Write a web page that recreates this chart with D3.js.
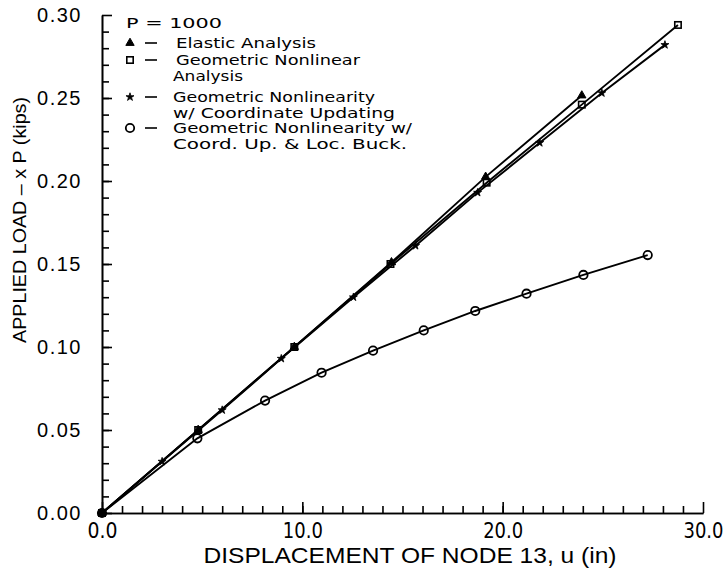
<!DOCTYPE html>
<html>
<head>
<meta charset="utf-8">
<script src="https://cdn.jsdelivr.net/npm/d3@7"></script>
<style>
  body { margin: 0; background: #fff; }
  svg { display: block; }
  .ylab text { font-family: "Liberation Sans", Arial, sans-serif; font-size: 20px; letter-spacing: 1.5px; }
  .xlab text { font-family: "Liberation Sans Narrow", "DejaVu Sans Condensed", "Liberation Sans", sans-serif; font-stretch: condensed; font-size: 21px; }
  .legend text { font-family: "DejaVu Sans", sans-serif; font-size: 14.5px; }
</style>
</head>
<body>
<div class="chart"></div>
<script>
// displacement u (in) / load (kips)
const elasticU = [0, 4.8, 9.6, 14.45, 19.15, 23.95];
const elasticP = [0, 0.05, 0.1, 0.151, 0.2025, 0.2515];

const geomU = [0, 4.8, 9.6, 14.4, 19.2, 23.95, 28.75];
const geomP = [0, 0.05, 0.1, 0.15, 0.199, 0.246, 0.294];

const updU = [0, 3.0, 6.0, 8.95, 12.55, 15.65, 18.75, 21.85, 24.95, 28.1];
const updP = [0, 0.031, 0.062, 0.093, 0.13, 0.161, 0.193, 0.223, 0.253, 0.282];

const buckU = [0, 4.76, 8.14, 10.96, 13.53, 16.06, 18.63, 21.19, 24.03, 27.24];
const buckP = [0, 0.045, 0.0677, 0.0845, 0.0978, 0.11, 0.1217, 0.1321, 0.1434, 0.1554];

const xMajor = [0, 10, 20, 30];
const yMajor = [0, 0.05, 0.1, 0.15, 0.2, 0.25, 0.3];

const legendRows = [
  { marker: null, lines: ["P  =  1000"] },
  { marker: "triangle", lines: ["Elastic  Analysis"] },
  { marker: "square", lines: ["Geometric  Nonlinear", "Analysis"] },
  { marker: "star", lines: ["Geometric  Nonlinearity", "w/  Coordinate  Updating"] },
  { marker: "circle", lines: ["Geometric  Nonlinearity  w/", "Coord.  Up.  &  Loc.  Buck."] },
];

const width = 727, height = 572;
const svg = d3.select(".chart").append("svg")
  .attr("width", width).attr("height", height);

const x = d3.scaleLinear().domain([0, 30]).range([102, 703]);
const y = d3.scaleLinear().domain([0, 0.3]).range([513, 15]);

// axes: minor ticks inside, majors longer with labels
svg.append("g")
  .attr("transform", `translate(0,${y(0)})`)
  .call(d3.axisBottom(x).tickValues(d3.range(1, 30)).tickSizeInner(-7).tickSizeOuter(0).tickFormat(""))
  .call((g) => g.selectAll("line, path").attr("stroke", "#000").attr("stroke-width", 1.6));
svg.append("g")
  .attr("class", "xlab")
  .attr("transform", `translate(0,${y(0)})`)
  .call(d3.axisBottom(x).tickValues(xMajor).tickSizeInner(-11).tickSizeOuter(0).tickPadding(10).tickFormat(d3.format(".1f")))
  .call((g) => g.selectAll("line, path").attr("stroke", "#000").attr("stroke-width", 1.6))
  .call((g) => g.selectAll("text").attr("fill", "#000")
    .attr("textLength", (d) => (d < 10 ? 30 : 40)).attr("lengthAdjust", "spacingAndGlyphs"));

svg.append("g")
  .attr("transform", `translate(${x(0)},0)`)
  .call(d3.axisLeft(y).tickValues(d3.range(1, 30).map((d) => d / 100)).tickSizeInner(-7).tickSizeOuter(0).tickFormat(""))
  .call((g) => g.selectAll("line, path").attr("stroke", "#000").attr("stroke-width", 1.6));
svg.append("g")
  .attr("class", "ylab")
  .attr("transform", `translate(${x(0)},0)`)
  .call(d3.axisLeft(y).tickValues(yMajor).tickSizeInner(-10).tickSizeOuter(0).tickPadding(20).tickFormat(d3.format(".2f")))
  .call((g) => g.selectAll("line, path").attr("stroke", "#000").attr("stroke-width", 1.6))
  .call((g) => g.selectAll("text").attr("fill", "#000"));

// axis titles
svg.append("text")
  .attr("x", 410).attr("y", 563)
  .attr("text-anchor", "middle")
  .attr("textLength", 413).attr("lengthAdjust", "spacingAndGlyphs")
  .style("font-family", '"Liberation Sans Narrow", "Liberation Sans", sans-serif')
  .style("font-size", "22px")
  .text("DISPLACEMENT OF NODE 13, u (in)");

svg.append("text")
  .attr("transform", "translate(26,220) rotate(-90)")
  .attr("text-anchor", "middle")
  .attr("textLength", 246).attr("lengthAdjust", "spacingAndGlyphs")
  .style("font-family", '"Liberation Sans", Arial, sans-serif')
  .style("font-size", "18px")
  .text("APPLIED LOAD  –  x P  (kips)");

// series
const series = [
  { u: elasticU, p: elasticP, marker: "triangle" },
  { u: geomU, p: geomP, marker: "square" },
  { u: updU, p: updP, marker: "star" },
  { u: buckU, p: buckP, marker: "circle" },
];

const line = d3.line().x((d) => x(d[0])).y((d) => y(d[1]));

function drawMarker(g, type, cx, cy) {
  if (type === "triangle") {
    g.append("path").attr("d", d3.symbol(d3.symbolTriangle, 30)())
      .attr("transform", `translate(${cx},${cy})`)
      .attr("fill", "#000").attr("stroke", "#000").attr("stroke-width", 1);
  } else if (type === "square") {
    g.append("rect").attr("x", cx - 3.2).attr("y", cy - 3.2).attr("width", 6.4).attr("height", 6.4)
      .attr("fill", "none").attr("stroke", "#000").attr("stroke-width", 1.6);
  } else if (type === "star") {
    g.append("path").attr("d", d3.symbol(d3.symbolStar, 20)())
      .attr("transform", `translate(${cx},${cy})`)
      .attr("fill", "#000").attr("stroke", "#000").attr("stroke-width", 0.8);
  } else if (type === "circle") {
    g.append("circle").attr("cx", cx).attr("cy", cy).attr("r", 4.2)
      .attr("fill", "none").attr("stroke", "#000").attr("stroke-width", 1.8);
  }
}

series.forEach((s) => {
  const pts = s.u.map((u, i) => [u, s.p[i]]);
  svg.append("path").datum(pts)
    .attr("d", line)
    .attr("fill", "none")
    .attr("stroke", "#000")
    .attr("stroke-width", 1.9);
  const g = svg.append("g");
  pts.forEach((d) => drawMarker(g, s.marker, x(d[0]), y(d[1])));
});

// origin blob where all series start
svg.append("circle")
  .attr("cx", x(elasticU[0])).attr("cy", y(elasticP[0])).attr("r", 4)
  .attr("fill", "#000");

// legend
const legend = svg.append("g").attr("class", "legend");
const rowBase = [28, 48, 65, 102, 133];
const lineGap = 16;
const textLen = {
  "P  =  1000": 96,
  "Elastic  Analysis": 140,
  "Geometric  Nonlinear": 184,
  "Analysis": 70,
  "Geometric  Nonlinearity": 202,
  "w/  Coordinate  Updating": 222,
  "Geometric  Nonlinearity  w/": 239,
  "Coord.  Up.  &  Loc.  Buck.": 234,
};
legendRows.forEach((r, i) => {
  const base = rowBase[i];
  if (r.marker) {
    drawMarker(legend, r.marker, 130, base - 5);
    legend.append("line")
      .attr("x1", 145).attr("x2", 157)
      .attr("y1", base - 5).attr("y2", base - 5)
      .attr("stroke", "#000").attr("stroke-width", 1.6);
  }
  r.lines.forEach((t, j) => {
    const tx = i === 0 ? 126 : (i <= 2 && j === 0 ? 176 : 173);
    legend.append("text")
      .attr("x", tx).attr("y", base + j * lineGap)
      .attr("textLength", textLen[t]).attr("lengthAdjust", "spacingAndGlyphs")
      .text(t);
  });
});
</script>
</body>
</html>
